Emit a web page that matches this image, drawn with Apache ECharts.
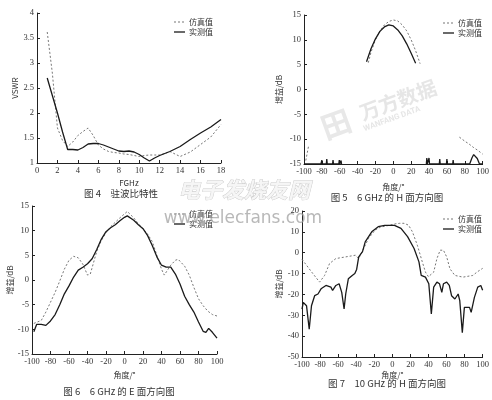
<!DOCTYPE html>
<html><head><meta charset="utf-8">
<script src="https://cdn.jsdelivr.net/npm/echarts@6/dist/echarts.min.js"></script>
<style>html,body{margin:0;padding:0;background:#fff}#c{width:492px;height:400px}</style>
</head><body><div id="c"></div>
<script>
// Fig 4: VSWR
const vswrFreq = [1,1.5,2,2.5,3,3.5,4,4.5,5,5.5,6,6.5,7,7.5,8,8.5,9,9.5,10,10.5,11,11.5,12,12.5,13,13.5,14,15,16,17,18];
const vswrSim  = [3.62,2.8,1.7,1.45,1.33,1.42,1.55,1.63,1.7,1.55,1.36,1.28,1.23,1.21,1.2,1.18,1.17,1.15,1.13,1.15,1.16,1.16,1.16,1.19,1.23,1.18,1.13,1.22,1.37,1.52,1.77];
const vswrMeas = [2.7,2.35,2.0,1.62,1.27,1.27,1.26,1.31,1.38,1.39,1.39,1.36,1.32,1.28,1.24,1.23,1.24,1.22,1.17,1.1,1.04,1.1,1.15,1.19,1.23,1.28,1.33,1.47,1.6,1.72,1.87];
// Fig 5: 6 GHz H-plane
const h6SimAngle = [-98,-95,-94,-28,-25,-20,-15,-10,-5,0,5,10,15,20,25,30,31,74,80,85,90,95,100];
const h6SimGain  = [-14.3,-11.5,null,5.4,7.5,10,11.8,13,13.7,14,13.8,13,11.8,10,7.8,5.2,null,-9.6,-10.4,-11,-11.7,-12.3,-13];
const h6MeasAngle = [-100,-81,-80,-79.5,-75,-74.5,-74,-68,-67.5,-67,-61,-60.5,-60,-59,-58.5,-58,-31,-30,-25,-20,-15,-10,-5,0,5,10,15,20,25,26,37,37.5,38,39.5,40,40.5,51.5,52,52.5,59.5,60,60.5,66.5,67,67.5,85.5,88,90,91,92,94,96.5,100];
const h6MeasGain  = [-15,-15,-14.2,-15,-15,-14,-15,-15,-14.2,-15,-15,-14.2,-15,-15,-14.3,-15,null,5.6,8.2,10.2,11.7,12.6,13.0,12.8,12.0,10.8,9.2,7.3,5.3,null,-15,-13.8,-15,-15,-13.8,-15,-15,-14,-15,-15,-14,-15,-15,-14.2,-15,-15,-13.8,-13.1,-12.9,-13.1,-13.9,-15,-15];
// Fig 6: 6 GHz E-plane
const e6SimAngle = [-98,-90,-85,-80,-75,-70,-65,-60,-55,-50,-45,-40,-37,-35,-30,-25,-20,-15,-10,-5,0,3,5,10,15,20,25,30,35,40,43,45,50,55,58,60,65,70,75,80,85,90,95,100];
const e6SimGain  = [-8.8,-8.2,-6.5,-4.5,-2.5,-0.2,2.2,4.0,4.8,4.5,3.2,1.0,1.2,2.5,5.8,8.0,9.6,10.8,11.7,12.6,13.4,13.9,13.7,12.6,11.4,10.4,9.3,7.8,5.0,2.2,1.0,1.2,3.0,4.0,4.2,4.0,2.8,1.0,-1.5,-3.8,-5.2,-6.3,-7.0,-7.3];
const e6MeasAngle = [-98,-95,-90,-85,-80,-75,-70,-65,-60,-55,-50,-45,-40,-35,-30,-25,-20,-15,-10,-5,0,3,5,10,15,20,25,30,35,40,45,50,55,60,65,70,75,80,85,88,91,95,100];
const e6MeasGain  = [-10.5,-9.0,-9.0,-9.2,-8.3,-7.0,-5.0,-2.8,-1.2,0.6,2.0,2.6,3.3,4.3,6.2,8.3,9.8,10.6,11.2,12.0,12.7,13.0,12.8,12.1,11.2,10.4,9.0,7.0,4.7,3.0,2.6,2.6,1.2,-0.8,-3.3,-5.0,-6.5,-8.5,-10.4,-10.6,-9.8,-10.6,-11.8];
// Fig 7: 10 GHz H-plane
const h10SimAngle = [-100,-95,-88,-80.5,-75,-69.5,-62.5,-51.6,-40.8,-37.2,-31.7,-26.3,-19,-13,-8,-3,3,8,13,18,22.3,27.7,33.2,36.7,40,42.2,45.8,49.4,53,56.6,60.2,63.8,69.3,78.3,89.1,94,100];
const h10SimGain  = [-3.2,-6,-10,-14.1,-10.9,-5.2,-2.8,-2,-1.2,-2.8,2,6.9,10.9,12.3,12.7,13.2,13.8,14.1,14.1,13.2,10,3.6,-4.4,-9.3,-11.5,-11.7,-9.3,-2.8,1.2,1.2,-2,-7.7,-10.9,-11.7,-10.9,-9.2,-7.5];
const h10MeasAngle = [-100,-98.6,-96.8,-95,-92,-89.5,-86,-82.3,-78.9,-73.5,-68,-66.1,-62.5,-58.9,-56,-53.4,-51.6,-48.7,-44.4,-41.5,-39.5,-37.2,-33,-30,-22.8,-15.6,-8.4,2.4,9.6,16.9,24.1,29.5,32,36.7,40.4,43.2,45.8,49.4,52.3,54.8,56.6,60.2,63.1,65.6,69.3,72.9,74.7,77.5,79.8,81.9,85.5,87.3,90.9,94.6,96.3,98,100];
const h10MeasGain  = [-27,-23.8,-23,-25.4,-36.7,-25.4,-20.6,-19.8,-17.3,-15.7,-16.5,-18.1,-15.7,-14.9,-19,-27,-19.8,-12.5,-10.9,-10,-8,-2,0.5,5.2,10,12.5,13.1,13.1,11.7,7.7,2,-4.4,-10.9,-11.7,-14.9,-29.4,-16.5,-14.1,-14.9,-19,-14.9,-14.1,-15.7,-20.6,-22.2,-19.8,-23,-38.3,-26.2,-25.4,-26.2,-28.6,-21.4,-16.5,-17.3,-15.7,-18];

const pair = (xs, ys) => xs.map((x, i) => [x, ys[i] === null ? '-' : ys[i]]);

const numFont = 'Liberation Serif';
const cjk = '"Noto Sans CJK SC"';
function xAx(gi, min, max, interval, name, gap) {
  return { type:'value', gridIndex:gi, min, max, interval, name, nameLocation:'middle', nameGap:gap,
    nameTextStyle:{fontFamily:cjk, fontSize:8, color:'#333'},
    axisLine:{onZero:false, lineStyle:{color:'#222', width:1}}, axisTick:{inside:true, length:3, lineStyle:{color:'#222'}},
    axisLabel:{fontFamily:numFont, fontSize:8.5, color:'#333', margin:3}, splitLine:{show:false} };
}
function yAx(gi, min, max, interval, name, gap) {
  return { type:'value', gridIndex:gi, min, max, interval, name, nameLocation:'middle', nameGap:gap,
    nameTextStyle:{fontFamily:cjk, fontSize:8, color:'#333'},
    axisLine:{show:true, onZero:false, lineStyle:{color:'#222', width:1}}, axisTick:{show:true, inside:true, length:3, lineStyle:{color:'#222'}},
    axisLabel:{fontFamily:numFont, fontSize:8.5, color:'#333', margin:3}, splitLine:{show:false} };
}
const dashStyle = {color:'#777', width:1, type:[2,2]};
const solidStyle = {color:'#1a1a1a', width:1.3};
function ser(gi, data, style) {
  return { type:'line', xAxisIndex:gi, yAxisIndex:gi, data, showSymbol:false, symbol:'none', lineStyle:style, connectNulls:false, silent:true, animation:false, z: style===solidStyle?3:2 };
}
function legend(x, y) {
  return [
    {type:'line', shape:{x1:x, y1:y, x2:x+11, y2:y}, style:{stroke:'#777', lineWidth:1, lineDash:[2,2]}},
    {type:'text', x:x+15, y:y, style:{text:'仿真值', font:'8px '+cjk, fill:'#333', textVerticalAlign:'middle'}},
    {type:'line', shape:{x1:x, y1:y+10, x2:x+11, y2:y+10}, style:{stroke:'#1a1a1a', lineWidth:1.3}},
    {type:'text', x:x+15, y:y+10, style:{text:'实测值', font:'8px '+cjk, fill:'#333', textVerticalAlign:'middle'}}
  ];
}
function caption(x, y, t) {
  return {type:'text', x, y, style:{text:t, font:'9.5px '+cjk, fill:'#333', textAlign:'center', textVerticalAlign:'middle'}};
}

const chart = echarts.init(document.getElementById('c'), null, {renderer:'canvas'});
chart.setOption({
  animation:false,
  backgroundColor:'#fff',
  grid:[
    {left:37, top:13, width:184, height:150},
    {left:304, top:15, width:183, height:149},
    {left:32, top:206, width:185, height:148},
    {left:302, top:211, width:184, height:146}
  ],
  xAxis:[
    xAx(0, 0, 18, 2, 'FGHz', 16),
    xAx(1, -100, 100, 20, '角度/°', 19),
    xAx(2, -100, 100, 20, '角度/°', 17),
    xAx(3, -100, 100, 20, '角度/°', 14)
  ],
  yAxis:[
    yAx(0, 1, 4, 0.5, 'VSWR', 18),
    yAx(1, -15, 15, 5, '增益/dB', 21),
    yAx(2, -15, 15, 5, '增益/dB', 14),
    yAx(3, -50, 20, 10, '增益/dB', 19)
  ],
  series:[
    ser(0, pair(vswrFreq, vswrSim), dashStyle),
    ser(0, pair(vswrFreq, vswrMeas), solidStyle),
    ser(1, pair(h6SimAngle, h6SimGain), dashStyle),
    ser(1, pair(h6MeasAngle, h6MeasGain), solidStyle),
    ser(2, pair(e6SimAngle, e6SimGain), dashStyle),
    ser(2, pair(e6MeasAngle, e6MeasGain), solidStyle),
    ser(3, pair(h10SimAngle, h10SimGain), dashStyle),
    ser(3, pair(h10MeasAngle, h10MeasGain), solidStyle)
  ],
  graphic:[
    // watermark: wanfang
    {type:'text', x:336, y:124, rotation:0.35, z:0, style:{text:'田', font:'bold 30px '+cjk, fill:'#e8e8e8', textAlign:'center', textVerticalAlign:'middle'}},
    {type:'text', x:398, y:100, rotation:0.35, z:0, style:{text:'万方数据', font:'bold 20px '+cjk, fill:'#e6e6e6', textAlign:'center', textVerticalAlign:'middle'}},
    {type:'text', x:392, y:119, rotation:0.35, z:0, style:{text:'WANFANG DATA', font:'bold 8px Roboto', fill:'#e6e6e6', textAlign:'center', textVerticalAlign:'middle'}},
    ...legend(174, 22),
    ...legend(443, 23),
    ...legend(174, 214),
    ...legend(443, 219),
    caption(121, 193, '图 4　驻波比特性'),
    caption(387, 197, '图 5　6 GHz 的 H 面方向图'),
    caption(119, 391, '图 6　6 GHz 的 E 面方向图'),
    caption(387, 383, '图 7　10 GHz 的 H 面方向图'),
    // watermark: elecfans
    {type:'text', x:244, y:190, z:10, style:{text:'电子发烧友网', font:'italic bold 22px '+cjk, fill:'rgba(245,245,245,0.9)', stroke:'#c4c4c4', lineWidth:0.7, textAlign:'center', textVerticalAlign:'middle'}},
    {type:'text', x:243, y:219, z:10, style:{text:'www.elecfans.com', font:'17px "DejaVu Sans"', fill:'rgba(160,160,160,0.75)', textAlign:'center', textVerticalAlign:'middle'}}
  ]
});
</script></body></html>
